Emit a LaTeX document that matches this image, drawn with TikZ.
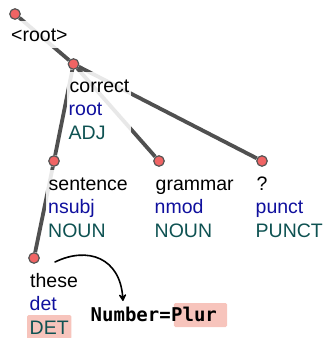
\documentclass[tikz,border=0pt]{standalone}
\usepackage{fontspec}
\setmainfont{Liberation Sans}
\newfontfamily\codefont{DejaVu Sans Mono}
\usetikzlibrary{calc,arrows.meta,backgrounds,fit}

\definecolor{dotred}{HTML}{F06464}
\definecolor{dotrim}{HTML}{555555}
\definecolor{relblue}{HTML}{10109E}
\definecolor{posteal}{HTML}{0E5252}
\definecolor{hlpink}{HTML}{F7C4BC}
\definecolor{edgedark}{HTML}{505050}

\begin{document}
\begin{tikzpicture}[x=1pt,y=-1pt,
  tok/.style={circle, minimum size=10.5pt, inner sep=0pt, fill=dotred,
              draw=dotrim, line width=1.2pt},
  lbl/.style={anchor=base west, inner sep=0pt, text height=17.5pt,
              text depth=4.5pt, font=\fontsize{19.5}{23.5}\selectfont},
  wordlbl/.style={lbl, text=black},
  rellbl/.style={lbl, text=relblue},
  poslbl/.style={lbl, text=posteal},
  codelbl/.style={anchor=base west, inner sep=0pt,
                  font=\codefont\bfseries\fontsize{19}{23}\selectfont},
  depedge/.style={draw=edgedark, line width=3.8pt},
  labelhalo/.style={fill=white, fill opacity=0.87, inner xsep=2pt,
                    inner ysep=2.5pt},
  hlbox/.style={fill=hlpink, rounded corners=1.5pt},
  featarrow/.style={-{Stealth[length=9pt,width=10pt,inset=4pt,round]},
                    line width=1.6pt, line cap=round}]
\useasboundingbox (0,0) rectangle (324,338);

% token dots
\node[tok] (d0) at (15,14) {};
\node[tok] (d1) at (73.5,64) {};
\node[tok] (d2) at (54,161) {};
\node[tok] (d3) at (159,161) {};
\node[tok] (d4) at (262,161) {};
\node[tok] (d5) at (34,258) {};

% token labels: form, relation, part of speech
\node[wordlbl] (w0) at (11,41) {<root>};

\node[wordlbl] (w1) at (69.5,92) {correct};
\node[rellbl]  (r1) at (68.5,115.5) {root};
\node[poslbl]  (p1) at (68.5,139) {ADJ};

\node[wordlbl] (w2) at (48.5,190) {sentence};
\node[rellbl]  (r2) at (48,213.5) {nsubj};
\node[poslbl]  (p2) at (48,237) {NOUN};

\node[wordlbl] (w3) at (155.5,190) {grammar};
\node[rellbl]  (r3) at (154.5,213.5) {nmod};
\node[poslbl]  (p3) at (154.5,237) {NOUN};

\node[wordlbl] (w4) at (256.5,190) {?};
\node[rellbl]  (r4) at (255.5,213.5) {punct};
\node[poslbl]  (p4) at (255.5,237) {PUNCT};

\node[wordlbl] (w5) at (30,287) {these};
\node[rellbl]  (r5) at (29.5,310.5) {det};
\node[poslbl]  (p5) at (29.5,334) {DET};

% morphological feature of "these"
\node[codelbl] (feat) at (90.5,321) {Number=};
\node[codelbl] (val) at (feat.base east) {Plur};

\begin{scope}[on background layer]
  % dependency edges, head to dependent
  \draw[depedge] (d0) -- (d1);
  \draw[depedge] (d1) -- (d2);
  \draw[depedge] (d1) -- (d3);
  \draw[depedge] (d1) -- (d4);
  \draw[depedge] (d2) -- (d5);
  % translucent backing behind each label block
  \node[labelhalo, fit=(w0)] {};
  \node[labelhalo, fit=(w1)(r1)(p1)] {};
  \node[labelhalo, fit=(w2)(r2)(p2)] {};
  \node[labelhalo, fit=(w3)(r3)(p3)] {};
  \node[labelhalo, fit=(w4)(r4)(p4)] {};
  \node[labelhalo, fit=(w5)(r5)(p5)] {};
  % highlighted values
  \fill[hlbox] ($(p5.base west)+(-2.5,-19)$) rectangle ($(p5.base east)+(2.5,5)$);
  \fill[hlbox] ($(val.base west)+(3,-18)$) rectangle ($(val.base east)+(10,6)$);
\end{scope}

\coordinate (arrstart) at ($(d5)+(21,4)$);
\coordinate (arrend) at ($(val.base west)+(-48,-20)$);
\draw[featarrow] (arrstart) .. controls (88,246) and (120,258) .. (arrend);
\end{tikzpicture}
\end{document}
